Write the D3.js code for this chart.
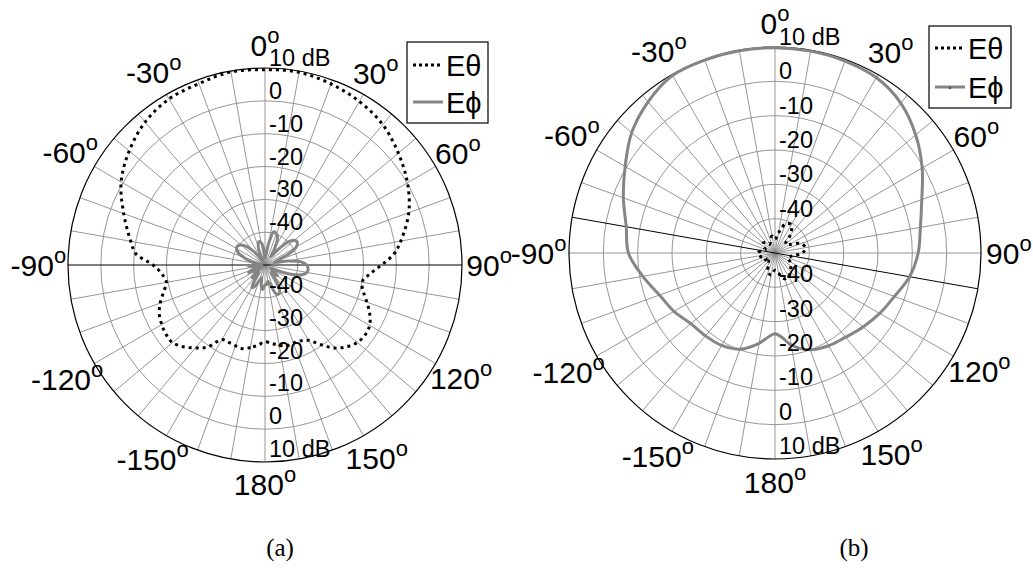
<!DOCTYPE html>
<html><head><meta charset="utf-8">
<script src="https://cdn.jsdelivr.net/npm/d3@7"></script>
<style>body{margin:0;background:#fff} svg{display:block}</style>
</head><body>
<svg id="chart" width="1033" height="570"></svg>
<script>
// ---------- data ----------
const angleTicks = [0, 30, 60, 90, 120, 150, 180, -150, -120, -90, -60, -30];
const ringTicks = [-40, -30, -20, -10, 0, 10];
const ringLabels = ["-40", "-30", "-20", "-10", "0", "10 dB"];
const seriesNames = ["E\u03B8", "E\u03D5"];
const panelCaptions = ["(a)", "(b)"];

// Panel (a) E-theta (dB) vs angle (deg)
const aThetaAngles = [0,10,20,30,40,50,60,70,80,85,90,95,100,105,110,115,120,125,130,135,140,145,150,155,160,165,170,175,180,
  -175,-170,-165,-160,-155,-150,-145,-140,-135,-130,-125,-120,-115,-110,-105,-100,-95,-90,-85,-80,-70,-60,-50,-40,-30,-20,-10];
const aThetaDb = [9.5,9.6,8.7,7.5,5.8,3.0,0.1,-3.4,-8.0,-10.5,-14.5,-18,-20,-19,-17,-14.8,-13.2,-12.8,-13.3,-14.8,-17,-20.4,-23.5,-24.5,-24.7,-24.5,-25.2,-26,-26.6,
  -25.5,-24.5,-23.6,-23.8,-24,-23.8,-19.5,-17,-14.8,-13.2,-13.2,-13.7,-14.5,-16,-18,-19.5,-18.5,-15.9,-10.5,-8.5,-4.2,0.6,4.0,6.8,8.4,8.8,9.7];

// Panel (a) E-phi
const aPhiAngles = d3.range(-180, 180, 5);
const aPhiDb = [-44,-42.5,-43.5,-46,-45,-43,-42,-44.5,-47,-44.5,-46,-49,-47,-44.5,-46,-49,-47,-45,-46.5,-49,-47,-45,-43,-41,-40,-39.8,-40.5,-42,-44.5,-47.5,-49,-47,-44,-42.7,-43,-45,
  -48,-47,-43,-39.5,-39.8,-41,-44,-47,-44,-40,-38.3,-38,-39,-42,-46,-47,-43,-39,-37.3,-36.8,-37,-38.5,-42,-46,-48,-47,-45,-46,-47,-44,-41,-40.2,-41,-44,-45,-44];

// Panel (b) E-theta
const bThetaAngles = d3.range(-180, 180, 10);
const bThetaDb = [-45,-43.5,-44,-46,-47,-46,-47,-46,-45.5,-45,-46,-47,-46,-45.5,-46,-47,-46,-45,
  -46,-44,-41,-40.5,-43,-46,-45,-42,-41,-42,-45,-46,-45,-44,-43,-42,-42,-44];

// Panel (b) E-phi
const bPhiAngles = [0,10,20,30,40,50,60,70,80,90,100,110,120,130,140,150,160,170,175,180,
  -175,-170,-160,-150,-140,-130,-120,-110,-100,-90,-80,-70,-60,-50,-40,-30,-20,-10];
const bPhiDb = [9.8,9.7,9.5,9.0,7.0,3.5,-0.5,-4.5,-7.0,-8.3,-10.2,-13.0,-14.8,-16.5,-18,-18.8,-20,-22.8,-25.2,-26.5,
  -25.3,-23.3,-20.2,-18.9,-18.5,-18,-16,-14.2,-10.9,-7.3,-6.0,-3.0,0.4,4.5,7.5,9.7,9.8,9.8];

// ---------- drawing ----------
const svg = d3.select("#chart");
const FONT = "Liberation Sans, Arial, Helvetica, sans-serif";
const GRID = "#8a8a8a";
const PHI_COLOR = "#858585";
const rad = d => d * Math.PI / 180;

function panel(cfg) {
  const { cx, cy, R, blackAxis, series, legend, caption, capX, legendMarker } = cfg;
  const g = svg.append("g").attr("transform", `translate(${cx},${cy})`);
  const r = d3.scaleLinear().domain([-50, 10]).range([0, R]).clamp(true);

  g.selectAll("circle.ring").data(ringTicks.slice(0, -1)).join("circle")
    .attr("r", d => r(d)).attr("fill", "none").attr("stroke", GRID).attr("stroke-width", 0.9);
  const spokes = d3.range(0, 180, 10);
  g.selectAll("line.spoke").data(spokes).join("line")
    .attr("x1", d => -R * Math.sin(rad(d))).attr("y1", d => R * Math.cos(rad(d)))
    .attr("x2", d => R * Math.sin(rad(d))).attr("y2", d => -R * Math.cos(rad(d)))
    .attr("stroke", d => d === blackAxis ? "#000" : GRID)
    .attr("stroke-width", d => d === blackAxis ? 1 : 0.9);
  g.selectAll("line").filter(d => d === blackAxis).raise();
  g.append("circle").attr("r", R).attr("fill", "none").attr("stroke", "#000").attr("stroke-width", 1.2);

  series.forEach(s => {
    const pts = s.angles.map((a, i) => [a, s.db[i]]).sort((p, q) => p[0] - q[0]);
    const line = d3.lineRadial().angle(p => rad(p[0])).radius(p => r(p[1])).curve(d3.curveCatmullRomClosed.alpha(0.5));
    g.append("path").attr("d", line(pts)).attr("fill", "none")
      .attr("stroke", s.color).attr("stroke-width", s.width)
      .attr("stroke-dasharray", s.dash || null).attr("stroke-linejoin", "round");
  });

  ringTicks.forEach((t, i) => {
    [[-1, -2], [1, -5]].forEach(([sgn, off]) => {
      g.append("text").attr("x", 4).attr("y", sgn * r(t) + off)
        .attr("font-family", FONT).attr("font-size", 23.5).attr("fill", "#000")
        .text(ringLabels[i]);
    });
  });

  angleTicks.forEach(a => {
    const t = g.append("text").attr("font-family", FONT).attr("font-size", 30)
      .attr("text-anchor", "middle").attr("fill", "#000");
    t.append("tspan").text(String(a));
    t.append("tspan").attr("font-size", 22).attr("dy", -13).text("o");
    const w = t.node().getComputedTextLength();
    const s = Math.abs(Math.sin(rad(a))), c = Math.abs(Math.cos(rad(a)));
    const rr = 1.08 * R + 0.5 * (w / 2) * s + 7 * Math.pow(c, 6);
    t.attr("x", rr * Math.sin(rad(a))).attr("y", -rr * Math.cos(rad(a)) + 10.5);
  });

  const L = svg.append("g").attr("transform", `translate(${legend.x},${legend.y})`);
  L.append("rect").attr("width", legend.w).attr("height", legend.h)
    .attr("fill", "#fff").attr("stroke", "#000").attr("stroke-width", 1.2);
  series.forEach((s, i) => {
    const yy = legend.rows[i];
    L.append("line").attr("x1", 6).attr("x2", 36).attr("y1", yy).attr("y2", yy)
      .attr("stroke", s.color).attr("stroke-width", s.width).attr("stroke-dasharray", s.dash ? "3 3" : null);
    if (legendMarker && !s.dash) {
      L.append("circle").attr("cx", 21).attr("cy", yy + 1).attr("r", 1.3).attr("fill", "#555");
    }
    L.append("text").attr("x", 39).attr("y", yy + 10.5).attr("font-family", FONT).attr("font-size", 29)
      .text(seriesNames[i]);
  });

  svg.append("text").attr("x", capX).attr("y", 556).attr("text-anchor", "middle")
    .attr("font-family", "Liberation Serif, Times New Roman, serif").attr("font-size", 25).text(caption);
}

panel({
  cx: 265, cy: 265, R: 197, blackAxis: 90,
  series: [
    { angles: aThetaAngles, db: aThetaDb, color: "#000", width: 3, dash: "3 4" },
    { angles: aPhiAngles, db: aPhiDb, color: PHI_COLOR, width: 3 }
  ],
  legend: { x: 407, y: 42, w: 81, h: 81, rows: [23, 60] },
  caption: panelCaptions[0], capX: 280, legendMarker: false
});

panel({
  cx: 775, cy: 253, R: 206, blackAxis: 100,
  series: [
    { angles: bThetaAngles, db: bThetaDb, color: "#000", width: 3, dash: "3 4" },
    { angles: bPhiAngles, db: bPhiDb, color: PHI_COLOR, width: 3 }
  ],
  legend: { x: 929, y: 26, w: 82, h: 82, rows: [22, 61] },
  caption: panelCaptions[1], capX: 854, legendMarker: true
});
</script>
</body></html>
